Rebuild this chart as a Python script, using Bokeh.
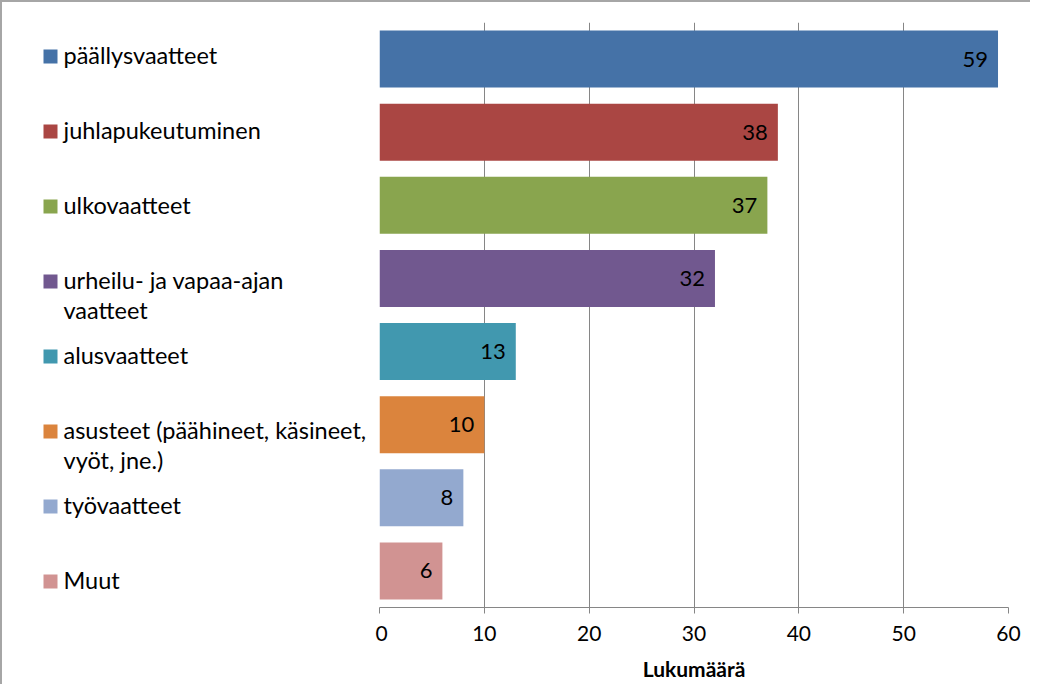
from bokeh.plotting import figure
from bokeh.layouts import row
from bokeh.models import FactorRange, Range1d, ColumnDataSource, FixedTicker
from bokeh.core.properties import value
from bokeh.embed import file_html
from bokeh.resources import INLINE

# ---- data ----
categories = [
    "päällysvaatteet",
    "juhlapukeutuminen",
    "ulkovaatteet",
    "urheilu- ja vapaa-ajan\nvaatteet",
    "alusvaatteet",
    "asusteet (päähineet, käsineet,\nvyöt, jne.)",
    "työvaatteet",
    "Muut",
]
counts = [59, 38, 37, 32, 13, 10, 8, 6]
colors = ["#4572A7", "#AA4643", "#89A54E", "#71588F", "#4198AF", "#DB843D", "#93A9CF", "#D19392"]
x_ticks = [0, 10, 20, 30, 40, 50, 60]
x_title = "Lukumäärä"

FONT = "Lato"
GRID = "#868686"

src = ColumnDataSource(dict(
    cat=categories,
    idx=list(range(len(categories))),
    val=counts,
    color=colors,
    lbl=[str(v) for v in counts],
))

# ---- bar chart ----
p = figure(
    width=655, height=682,
    y_range=FactorRange(factors=categories[::-1]),
    x_range=Range1d(0, 60),
    output_backend="svg", toolbar_location=None,
    min_border_left=4, min_border_right=22,
    min_border_top=20, min_border_bottom=77,
)
p.hbar(y="cat", left=0, right="val", height=0.78, fill_color="color",
       line_color=None, source=src)
p.text(x="val", y="cat", text="lbl", text_align="right", text_baseline="middle",
       x_offset=-10, text_font=value(FONT), text_font_size="22px",
       text_color="black", source=src)

p.outline_line_color = None
p.yaxis.visible = False
p.ygrid.visible = False
p.xgrid.ticker = FixedTicker(ticks=x_ticks)
p.xgrid.grid_line_color = GRID
p.xgrid.grid_line_width = 1

xa = p.xaxis[0]
xa.ticker = FixedTicker(ticks=x_ticks)
xa.axis_line_color = GRID
xa.major_tick_line_color = GRID
xa.major_tick_out = 6
xa.major_tick_in = 0
xa.minor_tick_line_color = None
xa.major_label_text_font = FONT
xa.major_label_text_font_size = "21px"
xa.major_label_text_color = "black"
xa.major_label_standoff = 12
xa.axis_label = x_title
xa.axis_label_text_font = FONT
xa.axis_label_text_font_size = "21px"
xa.axis_label_text_font_style = "bold"
xa.axis_label_text_color = "black"
xa.axis_label_standoff = 12

# ---- legend panel (its frame is aligned with the chart frame) ----
leg = figure(
    width=373, height=682,
    x_range=Range1d(0, 367),
    y_range=Range1d(start=7.347, end=-0.453),
    output_backend="svg", toolbar_location=None,
    min_border_left=6, min_border_right=0,
    min_border_top=20, min_border_bottom=77,
)
leg.axis.visible = False
leg.grid.visible = False
leg.outline_line_color = None
leg.scatter(x=42, y="idx", marker="square", size=14, fill_color="color",
            line_color=None, source=src)
leg.text(x=55, y="idx", text="cat", text_align="left", text_baseline="top",
         y_offset=-15, text_font=value(FONT), text_font_size="23.5px",
         text_line_height=1.07, text_color="black", source=src)

layout = row(leg, p)
layout.styles = {"border-top": "2px solid #a6a6a6", "border-left": "2px solid #a6a6a6"}

open("out.html", "w").write(file_html(layout, INLINE))
